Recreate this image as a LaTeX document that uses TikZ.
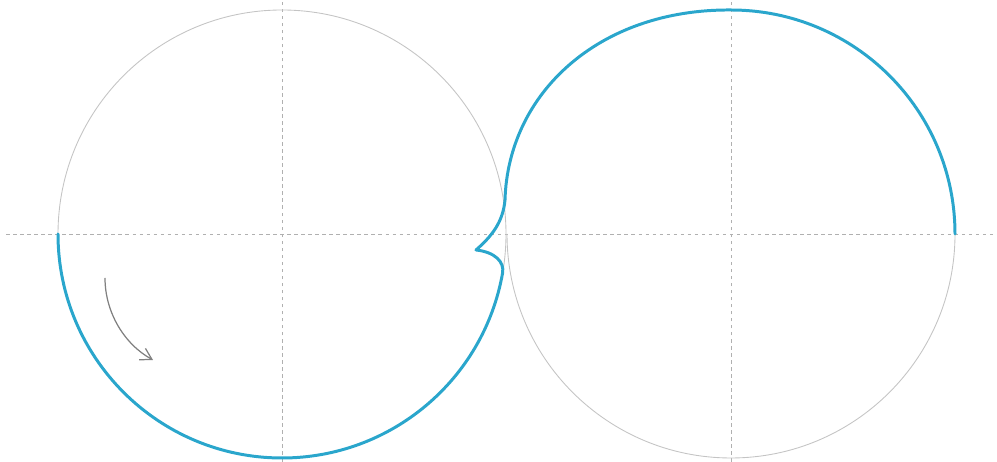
\documentclass[tikz,border=0pt]{standalone}
\usepackage{xcolor}
\usepackage{tikz}
\usetikzlibrary{arrows.meta,calc}
\definecolor{trackblue}{HTML}{2AA6CC}
\definecolor{ringgray}{HTML}{C4C4C4}
\definecolor{axisgray}{HTML}{B0B0B0}
\definecolor{arrowgray}{HTML}{808080}
\tikzset{
  ring/.style={draw=ringgray, line width=0.5pt},
  axisline/.style={draw=axisgray, line width=0.45pt, dash pattern=on 2pt off 2pt},
  track/.style={draw=trackblue, line width=1.7pt, line cap=round, line join=round},
  spin/.style={-{Straight Barb[length=2.2mm,width=2.6mm]}, draw=arrowgray, line width=0.7pt}
}
\begin{document}
\begin{tikzpicture}[x=0.02cm, y=0.02cm]
  \useasboundingbox (0,0) rectangle (997,462);
  \coordinate (lc) at (282,228);
  \coordinate (rc) at (731,228);
  % axes
  \draw[axisline] (6,228) -- (997,228);
  \draw[axisline] (282,0) -- (282,462);
  \draw[axisline] (731,0) -- (731,462);
  % circles
  \draw[ring] (lc) circle[radius=224];
  \draw[ring] ($(rc)+(-224,0)$) arc[start angle=180, end angle=360, radius=224];
  % blue track
  \draw[track] ($(lc)+(-224,0)$) arc[start angle=180, end angle=350, radius=224]
    .. controls (504.5,200) and (495,210) .. (476,212)
    .. controls (492,226) and (503,240) .. (505,262)
    .. controls (508,368) and (598,453) .. (731,452)
    arc[start angle=90, end angle=0, radius=224];
  % direction arrow
  \coordinate (spinstart) at (105,184);
  \coordinate (spinend) at (153,102);
  \draw[spin] (spinstart) .. controls (105,150) and (124,118) .. (spinend);
\end{tikzpicture}
\end{document}
